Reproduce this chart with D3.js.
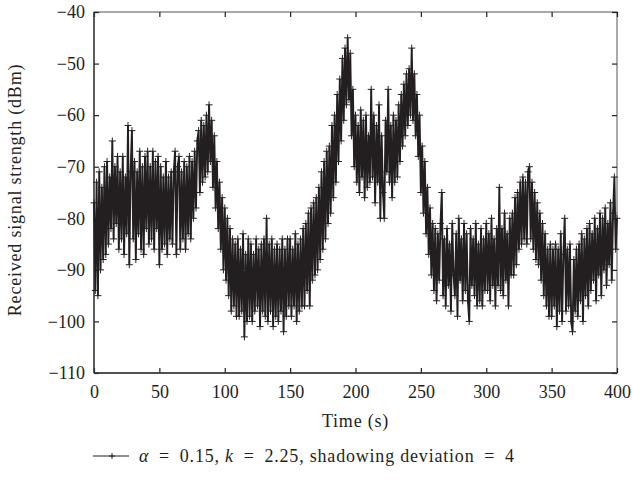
<!DOCTYPE html>
<html>
<head>
<meta charset="utf-8">
<script src="https://cdn.jsdelivr.net/npm/d3@7"></script>
<style>
  body { margin: 0; background: #fff; }
  svg text { font-family: "Liberation Serif", "DejaVu Serif", serif; fill: #231f20; }
</style>
</head>
<body>
<svg id="chart" width="633" height="483"></svg>
<script>
// Received signal strength (dBm), one sample per second, t = 0 .. 400 s
var startTime = 0, stepTime = 1;
var rss = [
  -77, -94, -73, -95, -71, -90, -74, -88, -70, -87,
  -69, -85, -72, -82, -65, -84, -70, -81, -68, -86,
  -71, -84, -68, -87, -72, -83, -62, -89, -71, -63,
  -84, -69, -88, -71, -83, -67, -86, -70, -87, -68,
  -82, -67, -85, -70, -84, -67, -86, -69, -82, -68,
  -89, -70, -86, -72, -85, -69, -87, -72, -84, -71,
  -85, -71, -67, -87, -70, -68, -86, -71, -84, -69,
  -86, -70, -83, -68, -84, -69, -80, -67, -78, -65,
  -63, -75, -61, -73, -62, -72, -60, -71, -58, -69,
  -61, -74, -64, -78, -69, -82, -73, -86, -76, -90,
  -78, -92, -80, -95, -82, -98, -84, -97, -85, -99,
  -84, -99, -86, -98, -83, -103, -87, -100, -84, -99,
  -85, -100, -87, -98, -84, -97, -86, -101, -85, -98,
  -84, -99, -80, -100, -85, -98, -84, -101, -86, -99,
  -85, -100, -86, -98, -84, -102, -86, -99, -84, -97,
  -84, -99, -86, -97, -83, -100, -85, -98, -84, -97,
  -82, -97, -81, -94, -79, -97, -78, -92, -77, -91,
  -76, -90, -74, -88, -71, -86, -69, -84, -67, -81,
  -66, -79, -62, -76, -60, -73, -56, -69, -53, -65,
  -49, -61, -47, -58, -45, -57, -48, -64, -55, -70,
  -60, -73, -62, -75, -59, -72, -61, -76, -60, -74,
  -64, -73, -55, -72, -60, -77, -62, -73, -58, -80,
  -64, -75, -80, -61, -71, -55, -73, -62, -76, -60,
  -73, -61, -72, -58, -69, -56, -66, -54, -64, -52,
  -62, -51, -60, -47, -61, -52, -64, -56, -68, -60,
  -75, -66, -79, -69, -83, -74, -87, -78, -91, -81,
  -94, -82, -96, -83, -92, -81, -75, -95, -84, -97,
  -82, -93, -85, -98, -81, -91, -95, -83, -99, -80,
  -92, -84, -96, -81, -94, -83, -96, -100, -82, -93,
  -84, -95, -81, -97, -85, -96, -82, -97, -84, -94,
  -81, -94, -83, -96, -80, -93, -84, -97, -82, -93,
  -74, -94, -82, -95, -79, -92, -83, -97, -80, -91,
  -79, -91, -76, -89, -75, -86, -73, -85, -72, -84,
  -73, -85, -71, -70, -84, -73, -86, -75, -88, -77,
  -89, -79, -92, -81, -95, -83, -97, -86, -99, -85,
  -99, -86, -97, -85, -101, -86, -98, -83, -100, -87,
  -80, -98, -86, -97, -85, -100, -102, -88, -98, -86,
  -99, -85, -96, -83, -100, -84, -95, -82, -97, -81,
  -94, -83, -92, -80, -96, -82, -91, -79, -95, -80,
  -90, -78, -93, -81, -89, -77, -92, -79, -72, -86,
  -80
];
var xTicks = [0, 50, 100, 150, 200, 250, 300, 350, 400];
var yTicks = [-40, -50, -60, -70, -80, -90, -100, -110];
var legendParts = ["α", "\u2002=\u20020.15, ", "k", "\u2002=\u20022.25, shadowing deviation\u2002=\u20024"];

var data = rss.map(function(v, i) { return { t: startTime + i * stepTime, v: v }; });

var margin = { top: 12, right: 16, bottom: 110, left: 94 };
var width = 633 - margin.left - margin.right;   // 523
var height = 483 - margin.top - margin.bottom;  // 361
var ink = "#231f20";
var fontSize = "18px";

var svg = d3.select("#chart");
var g = svg.append("g")
    .attr("transform", "translate(" + margin.left + "," + margin.top + ")");

var x = d3.scaleLinear().domain([0, 400]).range([0, width]);
var y = d3.scaleLinear().domain([-110, -40]).range([height, 0]);

// frame
g.append("rect")
    .attr("width", width).attr("height", height)
    .attr("fill", "none").attr("stroke", "#555").attr("stroke-width", 1);

function styleAxis(sel, showText) {
    sel.select(".domain").remove();
    sel.selectAll(".tick line").attr("stroke", ink).attr("stroke-width", 1.2);
    sel.selectAll(".tick text")
        .style("font-size", fontSize)
        .attr("fill", ink)
        .style("display", showText ? null : "none");
}

// bottom axis (ticks point inward)
g.append("g")
    .attr("transform", "translate(0," + height + ")")
    .call(d3.axisBottom(x).tickValues(xTicks).tickSizeInner(-5).tickSizeOuter(0).tickPadding(12))
    .call(styleAxis, true);
// top axis
g.append("g")
    .call(d3.axisTop(x).tickValues(xTicks).tickSizeInner(-5).tickSizeOuter(0))
    .call(styleAxis, false);
// left axis
g.append("g")
    .call(d3.axisLeft(y).tickValues(yTicks).tickSizeInner(-5).tickSizeOuter(0).tickPadding(9))
    .call(styleAxis, true);
// right axis
g.append("g")
    .attr("transform", "translate(" + width + ",0)")
    .call(d3.axisRight(y).tickValues(yTicks).tickSizeInner(-5).tickSizeOuter(0))
    .call(styleAxis, false);

// left and bottom edges darker
g.append("line").attr("x1", 0).attr("x2", 0).attr("y1", 0).attr("y2", height)
    .attr("stroke", "#333").attr("stroke-width", 1.3);
g.append("line").attr("x1", 0).attr("x2", width).attr("y1", height).attr("y2", height)
    .attr("stroke", "#333").attr("stroke-width", 1.3);

// signal line
var line = d3.line()
    .x(function(d) { return x(d.t); })
    .y(function(d) { return y(d.v); });

g.append("path")
    .datum(data)
    .attr("fill", "none")
    .attr("stroke", ink)
    .attr("stroke-width", 1.9)
    .attr("d", line);

// plus markers
g.append("g").selectAll("path.pt")
    .data(data)
    .enter().append("path")
    .attr("class", "pt")
    .attr("d", "M-3.5,0H3.5M0,-3.5V3.5")
    .attr("transform", function(d) { return "translate(" + x(d.t) + "," + y(d.v) + ")"; })
    .attr("stroke", ink)
    .attr("stroke-width", 1)
    .attr("fill", "none");

// axis titles
svg.append("text")
    .attr("x", margin.left + width / 2)
    .attr("y", 427)
    .attr("text-anchor", "middle")
    .style("font-size", fontSize)
    .style("letter-spacing", "0.8px")
    .text("Time (s)");

svg.append("text")
    .attr("transform", "translate(21,190) rotate(-90)")
    .attr("text-anchor", "middle")
    .style("font-size", fontSize)
    .style("letter-spacing", "0.8px")
    .text("Received signal strength (dBm)");

// legend
var leg = svg.append("g").attr("transform", "translate(93,456)");
leg.append("line").attr("x1", 0).attr("x2", 36).attr("y1", 0).attr("y2", 0)
    .attr("stroke", ink).attr("stroke-width", 1);
leg.append("path").attr("d", "M-3,0H3M0,-3V3")
    .attr("transform", "translate(19,0)")
    .attr("stroke", ink).attr("stroke-width", 1).attr("fill", "none");
var lt = leg.append("text").attr("x", 46).attr("y", 6)
    .style("font-size", fontSize)
    .style("letter-spacing", "0.8px");
legendParts.forEach(function(s, i) {
    lt.append("tspan")
        .style("font-style", (i === 0 || i === 2) ? "italic" : "normal")
        .text(s);
});
</script>
</body>
</html>
